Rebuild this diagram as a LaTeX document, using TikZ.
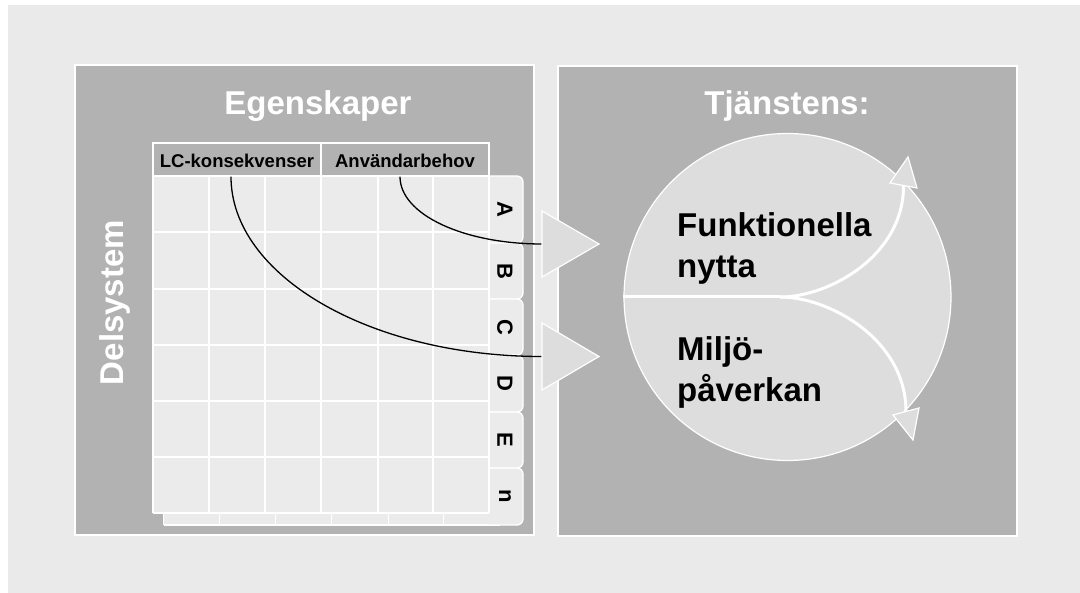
\documentclass[tikz,border=0pt]{standalone}
\usepackage{fontspec}
\setmainfont{Liberation Sans}
\definecolor{bgc}{HTML}{EAEAEA}
\definecolor{panelc}{HTML}{B2B2B2}
\definecolor{cellc}{HTML}{EBEBEB}
\definecolor{circc}{HTML}{DDDDDD}
\begin{document}
\begin{tikzpicture}[x=1pt,y=-1pt,
 panel/.style={fill=panelc,draw=white,line width=1.5pt},
 title/.style={text=white,font=\fontsize{33}{36}\selectfont\bfseries,anchor=base,inner sep=0},
 hdr/.style={fill=panelc,draw=white,line width=1.3pt,minimum width=168pt,minimum height=33pt,inner sep=0,text height=17pt,text depth=0pt,font=\fontsize{18.5}{20}\selectfont\bfseries},
 gridline/.style={draw=white,line width=1.4pt},
 tabshape/.style={fill=cellc,draw=white,line width=1.3pt,rounded corners=6pt},
 tabtxt/.style={font=\fontsize{22}{24}\selectfont\bfseries,rotate=-90,inner sep=0},
 conn/.style={draw=black,line width=1.3pt},
 arrowtri/.style={fill=circc,draw=white,line width=1.2pt,line join=miter},
 flow/.style={draw=white,line width=3pt},
 big/.style={font=\fontsize{33}{41}\selectfont\bfseries,align=left,inner sep=0,anchor=north west}
]
\useasboundingbox (0,0) rectangle (1080,593);
\fill[white] (0,0) rectangle (1080,593);
\fill[bgc] (8,5) rectangle (1080,593);

% panels
\draw[panel] (75,65) rectangle (534,535);
\draw[panel] (558,66) rectangle (1017,536);

% titles
\node[title] (eg) at (318,115) {Egenskaper};
\node[title] (tj) at (787,115) {Tjänstens:};
\node[title,rotate=90] (del) at (123,302.5) {Delsystem};

% back sheet
\begin{scope}[shift={(10.5,12)}]
\fill[cellc] (153,176) rectangle (489,513);
\foreach \x in {153,209,265,321,378,433,489} \draw[gridline] (\x,176) -- (\x,513);
\foreach \y in {176,232,289,345,401,457,513} \draw[gridline] (153,\y) -- (489,\y);
\end{scope}

% tabs
\foreach \t/\b/\l in {176/243/A,243/299/B,299/355/C,355/412/D,412/468/E,468/525/n}{
  \filldraw[tabshape] (489,\t) -- (523,\t) -- (523,\b) -- (489,\b);
  \node[tabtxt] (tab\l) at (505,{(\t+\b)/2}) {\l};
}

% front sheet
\fill[cellc] (153,176) rectangle (489,513);
\foreach \x in {153,209,265,321,378,433,489} \draw[gridline] (\x,176) -- (\x,513);
\foreach \y in {176,232,289,345,401,457,513} \draw[gridline] (153,\y) -- (489,\y);

% header cells
\node[hdr] (h1) at (237,159.5) {LC-konsekvenser};
\node[hdr] (h2) at (405,159.5) {Användarbehov};

% big arrows
\coordinate (t1) at (542,244);
\coordinate (t2) at (542,356.5);
\draw[conn] ([xshift=-5pt]h2.south) .. controls +(0,38) and +(-78,0) .. (t1);
\draw[conn] ([xshift=-6pt]h1.south) .. controls +(0,99) and +(-172,0) .. (t2);
\draw[arrowtri] (t1) ++(0,-33) -- ++(57,33) -- ++(-57,33) -- cycle;
\draw[arrowtri] (t2) ++(0,-33.5) -- ++(57,33.5) -- ++(-57,33.5) -- cycle;

% circle
\node[circle,fill=circc,draw=white,line width=1.2pt,minimum size=327pt,inner sep=0] (circ) at (787.5,297) {};
\coordinate (split) at (780,297);
\coordinate (ua) at (903.5,185.5);
\coordinate (la) at (906,411.5);
\draw[flow] (circ.west) -- (split);
\draw[flow] (split) .. controls (830,297) and (904,255) .. (ua);
\draw[flow] (split) .. controls (830,297) and (906,340) .. (la);
\draw[arrowtri] (ua) ++(-13.5,-2.5) -- ++(18,-26) -- ++(9,31) -- cycle;
\draw[arrowtri] (la) ++(-13,3.5) -- ++(20,25) -- ++(6,-32) -- cycle;

\node[big] (fn) at (677,212.4) {Funktionella\\nytta};
\node[big] (mp) at (677,336.4) {Miljö-\\påverkan};
\end{tikzpicture}
\end{document}
